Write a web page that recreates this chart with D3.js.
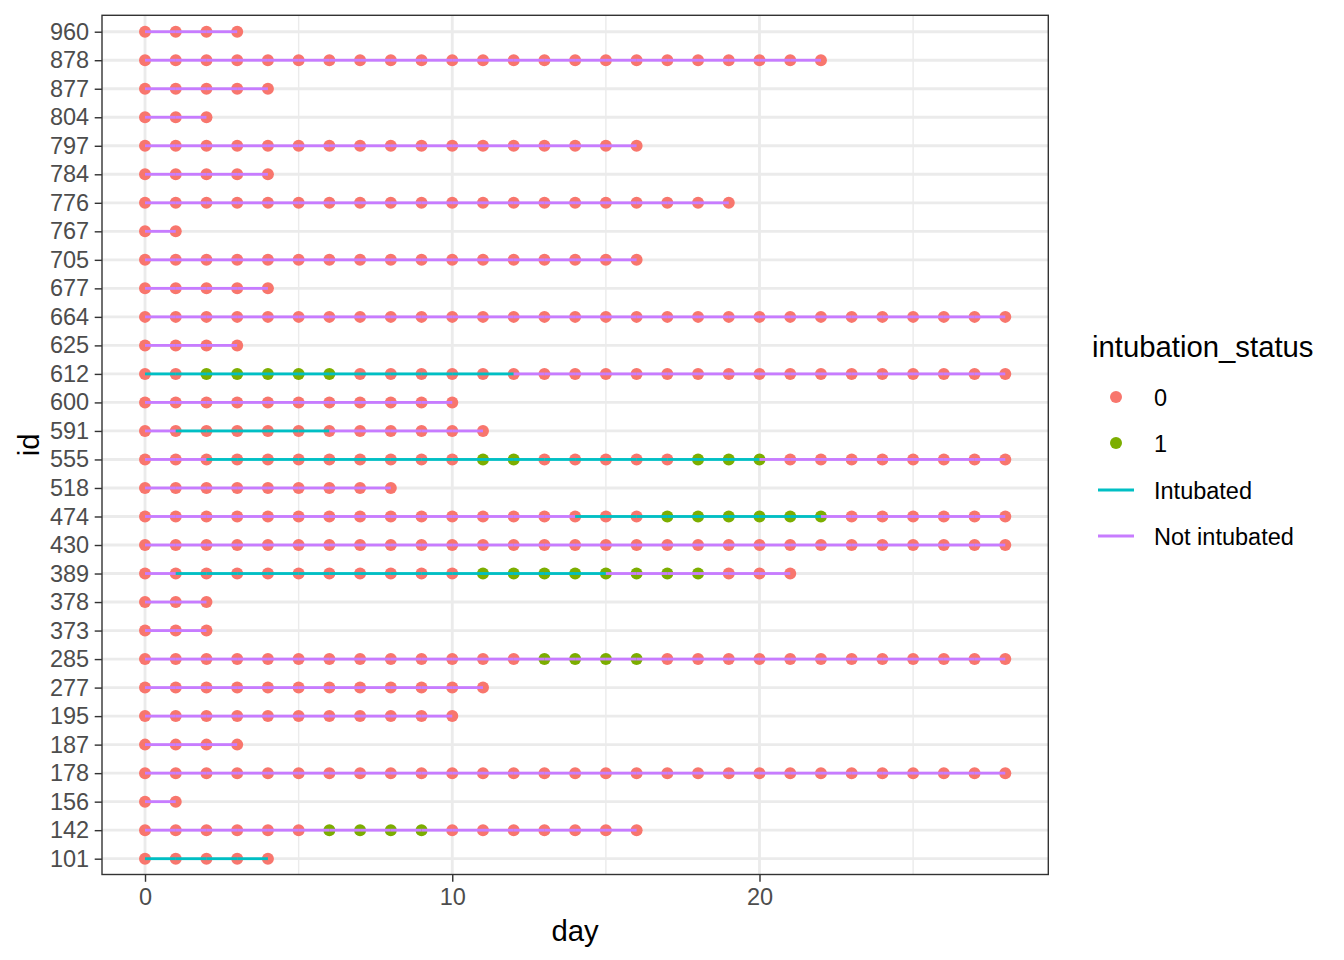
<!DOCTYPE html>
<html>
<head>
<meta charset="utf-8">
<script src="https://cdn.jsdelivr.net/npm/d3@7"></script>
<style>
  html, body { margin: 0; padding: 0; background: #fff; }
  svg { display: block; font-family: "Liberation Sans", Arial, sans-serif; }
</style>
</head>
<body>
<svg id="chart" width="1344" height="960"></svg>
<script>
// ---- data (bottom row first) ----
const ids = ["101","142","156","178","187","195","277","285","373","378","389","430","474","518","555","591","600","612","625","664","677","705","767","776","784","797","804","877","878","960"];
const lastDay = [4,16,1,28,3,10,11,28,2,2,21,28,28,8,28,11,10,28,3,28,4,16,1,19,4,16,2,4,22,3];
// days with intubation_status = 1 (green points), per id
const statusOneDays = [
  [], [6,7,8,9], [], [], [], [], [], [13,14,15,16], [], [],
  [11,12,13,14,15,16,17,18], [], [17,18,19,20,21,22], [], [11,12,18,19,20],
  [], [], [2,3,4,5,6], [], [], [], [], [], [], [], [], [], [], [], []
];
// "Intubated" line stretch [from day, to day] per id (null = never)
const intubatedSpan = [
  [0,4], null, null, null, null, null, null, null, null, null,
  [1,15], null, [14,22], null, [2,20], [1,6], null, [0,12], null, null,
  null, null, null, null, null, null, null, null, null, null
];
const xTicks = [0, 10, 20];
const xMinor = [5, 15, 25];
const pointLevels = ["0", "1"];
const lineLevels = ["Intubated", "Not intubated"];

// ---- build records ----
const points = [];
const segments = [];
ids.forEach((id, i) => {
  for (let d = 0; d <= lastDay[i]; d++) {
    points.push({ id, day: d, status: statusOneDays[i].includes(d) ? "1" : "0" });
    if (d < lastDay[i]) {
      const sp = intubatedSpan[i];
      const intub = sp && d >= sp[0] && d < sp[1];
      segments.push({ id, d0: d, d1: d + 1, grp: intub ? "Intubated" : "Not intubated" });
    }
  }
});

// ---- layout ----
const svg = d3.select("#chart");
const P = { left: 102, right: 1048.3, top: 14.6, bottom: 875.8 };
const B = { top: 15.3, bottom: 874.5 };

const x = d3.scaleLinear().domain([-1.4, 29.4]).range([P.left, P.right]);
const y = d3.scalePoint().domain(ids.slice().reverse()).range([P.top, P.bottom]).padding(0.6);
const pointColor = d3.scaleOrdinal().domain(pointLevels).range(["#F8766D", "#7CAE00"]);
const lineColor = d3.scaleOrdinal().domain(lineLevels).range(["#00BFC4", "#C77CFF"]);

const grid = svg.append("g");
grid.selectAll(".minor").data(xMinor).join("line")
  .attr("x1", d => x(d)).attr("x2", d => x(d)).attr("y1", B.top).attr("y2", B.bottom)
  .attr("stroke", "#EBEBEB").attr("stroke-width", 1.42);
grid.selectAll(".majx").data(xTicks).join("line")
  .attr("x1", d => x(d)).attr("x2", d => x(d)).attr("y1", B.top).attr("y2", B.bottom)
  .attr("stroke", "#EBEBEB").attr("stroke-width", 2.84);
grid.selectAll(".majy").data(ids).join("line")
  .attr("x1", P.left).attr("x2", P.right).attr("y1", d => y(d)).attr("y2", d => y(d))
  .attr("stroke", "#EBEBEB").attr("stroke-width", 2.84);

// points
svg.append("g").selectAll("circle").data(points).join("circle")
  .attr("cx", d => x(d.day)).attr("cy", d => y(d.id)).attr("r", 6)
  .attr("fill", d => pointColor(d.status));

// line segments
svg.append("g").selectAll("line").data(segments).join("line")
  .attr("x1", d => x(d.d0)).attr("x2", d => x(d.d1))
  .attr("y1", d => y(d.id)).attr("y2", d => y(d.id))
  .attr("stroke", d => lineColor(d.grp)).attr("stroke-width", 2.84);

// panel border
svg.append("rect").attr("x", P.left).attr("y", B.top)
  .attr("width", P.right - P.left).attr("height", B.bottom - B.top)
  .attr("fill", "none").attr("stroke", "#333333").attr("stroke-width", 1.4);

// axes
const xAxis = svg.append("g").attr("transform", `translate(0,${B.bottom})`)
  .call(d3.axisBottom(x).tickValues(xTicks).tickSize(7.3).tickPadding(6.5));
const yAxis = svg.append("g").attr("transform", `translate(${P.left},0)`)
  .call(d3.axisLeft(y).tickSize(7.3).tickPadding(5.5));
[xAxis, yAxis].forEach(a => {
  a.select(".domain").remove();
  a.selectAll(".tick line").attr("stroke", "#333333").attr("stroke-width", 1.42);
  a.selectAll(".tick text").attr("fill", "#4D4D4D")
    .style("font-size", "23.5px").style("font-family", "'Liberation Sans', Arial, sans-serif");
});

// axis titles
svg.append("text").attr("x", (P.left + P.right) / 2).attr("y", 941)
  .attr("text-anchor", "middle").style("font-size", "29.3px").attr("fill", "#000").text("day");
svg.append("text").attr("transform", `translate(39,${(B.top + B.bottom) / 2}) rotate(-90)`)
  .attr("text-anchor", "middle").style("font-size", "29.3px").attr("fill", "#000").text("id");

// legend
const lg = svg.append("g");
lg.append("text").attr("x", 1092).attr("y", 357).style("font-size", "29.3px").attr("fill", "#000")
  .text("intubation_status");
const keyY = [397, 443, 490, 536];
pointLevels.forEach((lv, i) => {
  lg.append("circle").attr("cx", 1116).attr("cy", keyY[i]).attr("r", 6).attr("fill", pointColor(lv));
  lg.append("text").attr("x", 1154).attr("y", keyY[i] + 8.5).style("font-size", "23.5px").attr("fill", "#000").text(lv);
});
lineLevels.forEach((lv, j) => {
  const i = j + 2;
  lg.append("line").attr("x1", 1098).attr("x2", 1134).attr("y1", keyY[i]).attr("y2", keyY[i])
    .attr("stroke", lineColor(lv)).attr("stroke-width", 2.84);
  lg.append("text").attr("x", 1154).attr("y", keyY[i] + 8.5).style("font-size", "23.5px").attr("fill", "#000").text(lv);
});
</script>
</body>
</html>
